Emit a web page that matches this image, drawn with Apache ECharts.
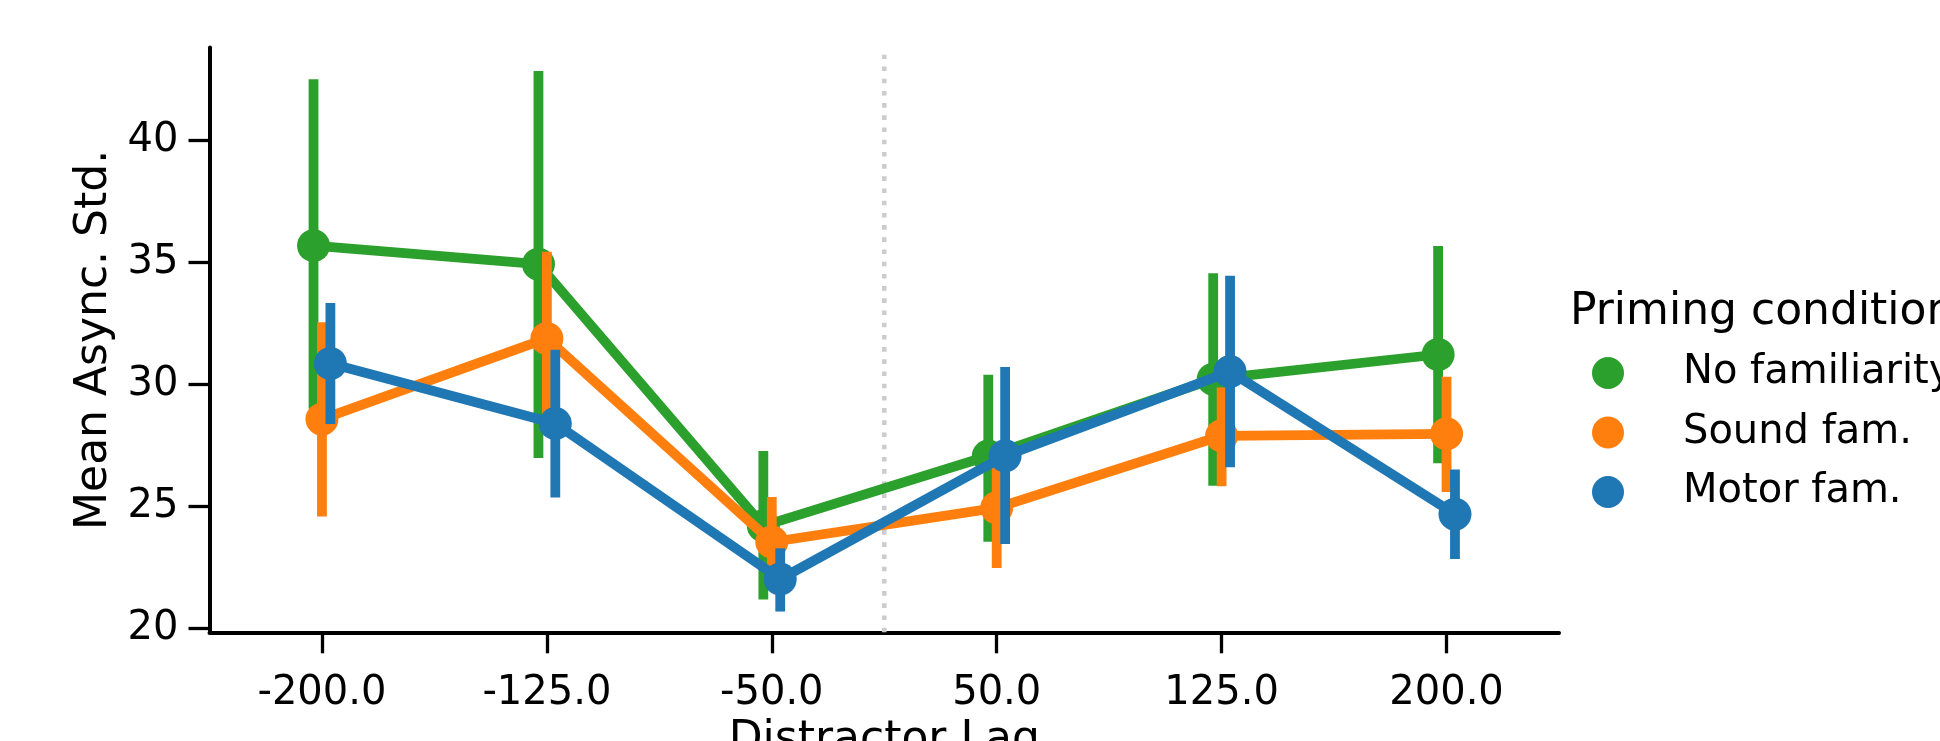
<!DOCTYPE html>
<html>
<head>
<meta charset="utf-8">
<script src="https://cdn.jsdelivr.net/npm/echarts@6/dist/echarts.min.js"></script>
<style>
  html, body { margin: 0; padding: 0; background: #fff; }
  #chart { width: 1940px; height: 741px; }
</style>
</head>
<body>
<div id="chart"></div>
<script>
// distractor lag conditions (x tick labels)
var lagLabels = ['-200.0', '-125.0', '-50.0', '50.0', '125.0', '200.0'];
var conditionNames = ['No familiarity', 'Sound fam.', 'Motor fam.'];

// mean async std and CI bounds, per priming condition
var noFamMean = [35.68, 34.92, 24.2, 27.06, 30.21, 31.22];
var noFamLow  = [29.0, 26.98, 21.18, 23.55, 25.84, 26.77];
var noFamHigh = [42.5, 42.83, 27.27, 30.39, 34.55, 35.66];

var soundMean = [28.57, 31.88, 23.54, 24.94, 27.89, 27.97];
var soundLow  = [24.58, 28.5, 21.9, 22.47, 25.82, 25.59];
var soundHigh = [32.54, 35.43, 25.38, 27.4, 29.87, 30.31];

var motorMean = [30.85, 28.39, 22.02, 27.07, 30.52, 24.68];
var motorLow  = [28.37, 25.36, 20.69, 23.46, 26.6, 22.84];
var motorHigh = [33.33, 31.41, 23.28, 30.71, 34.45, 26.51];

// dotted separator between negative and positive lags
var dividerX = 2.5;
var dividerY = [19.84, 43.5];

var yTicks = [20, 25, 30, 35, 40];

var colors = ['#2ca02c', '#ff7f0e', '#1f77b4'];
var dodge = [-0.0375, 0, 0.0375];
var FONT = 'DejaVu Sans';

var chartDom = document.getElementById('chart');
var myChart = echarts.init(chartDom);
var option;

var groups = [
    { mean: noFamMean, low: noFamLow, high: noFamHigh },
    { mean: soundMean, low: soundLow, high: soundHigh },
    { mean: motorMean, low: motorLow, high: motorHigh }
];

var series = [
    {
        type: 'line',
        silent: true,
        z: 1,
        symbol: 'none',
        data: dividerY.map(function (y) { return [dividerX, y]; }),
        lineStyle: { color: '#cccccc', width: 4.6, type: [4.6, 7.6], cap: 'butt' }
    }
];

groups.forEach(function (g, j) {
    var off = dodge[j];
    series.push({
        name: conditionNames[j],
        type: 'line',
        z: 2 + j * 2,
        data: g.mean.map(function (m, i) { return [i + off, m]; }),
        symbol: 'circle',
        symbolSize: 33,
        showSymbol: true,
        itemStyle: { color: colors[j] },
        lineStyle: { color: colors[j], width: 9.8 }
    });
    // error bars
    series.push({
        name: conditionNames[j],
        type: 'custom',
        z: 3 + j * 2,
        silent: true,
        itemStyle: { color: colors[j] },
        data: g.mean.map(function (m, i) { return [i + off, g.low[i], g.high[i]]; }),
        renderItem: function (params, api) {
            var lo = api.coord([api.value(0), api.value(1)]);
            var hi = api.coord([api.value(0), api.value(2)]);
            return {
                type: 'line',
                shape: { x1: lo[0], y1: lo[1], x2: hi[0], y2: hi[1] },
                style: { stroke: colors[j], lineWidth: 9.8, lineCap: 'butt' }
            };
        }
    });
});

option = {
    animation: false,
    color: colors,
    textStyle: { fontFamily: FONT },
    title: {
        text: 'Priming condition',
        left: 1570,
        top: 291,
        padding: 0,
        textStyle: { fontFamily: FONT, fontSize: 44, fontWeight: 'normal', color: '#000', lineHeight: 44 }
    },
    legend: {
        data: conditionNames,
        orient: 'vertical',
        left: 1592,
        top: 353,
        padding: 0,
        itemWidth: 32,
        itemHeight: 32,
        itemGap: 19.5,
        icon: 'circle',
        textStyle: { fontFamily: FONT, fontSize: 40, color: '#000', lineHeight: 40, padding: [0, 0, 0, 54] }
    },
    grid: { left: 209.5, right: 381, top: 47.4, bottom: 108.7, containLabel: false, outerBoundsMode: 'none' },
    xAxis: {
        type: 'value',
        min: -0.5,
        max: 5.5,
        name: 'Distractor Lag',
        nameLocation: 'middle',
        nameGap: 84,
        nameTextStyle: { fontFamily: FONT, fontSize: 44, color: '#000' },
        splitLine: { show: false },
        axisLine: { onZero: false, lineStyle: { color: '#000', width: 4 } },
        axisTick: {
            show: true,
            length: 21,
            customValues: [0, 1, 2, 3, 4, 5],
            lineStyle: { color: '#000', width: 3.3 }
        },
        axisLabel: {
            customValues: [0, 1, 2, 3, 4, 5],
            margin: 41,
            fontFamily: FONT,
            fontSize: 40,
            color: '#000',
            formatter: function (v) { return lagLabels[Math.round(v)]; }
        }
    },
    yAxis: {
        type: 'value',
        min: 19.84,
        max: 43.8,
        name: 'Mean Async. Std.',
        nameLocation: 'middle',
        nameGap: 90,
        nameTextStyle: { fontFamily: FONT, fontSize: 44, color: '#000' },
        splitLine: { show: false },
        axisLine: { show: true, onZero: false, lineStyle: { color: '#000', width: 4 } },
        axisTick: {
            show: true,
            length: 21,
            customValues: yTicks,
            lineStyle: { color: '#000', width: 3.3 }
        },
        axisLabel: {
            customValues: yTicks,
            margin: 31,
            fontFamily: FONT,
            fontSize: 40,
            color: '#000'
        }
    },
    series: series
};

option && myChart.setOption(option);
</script>
</body>
</html>
